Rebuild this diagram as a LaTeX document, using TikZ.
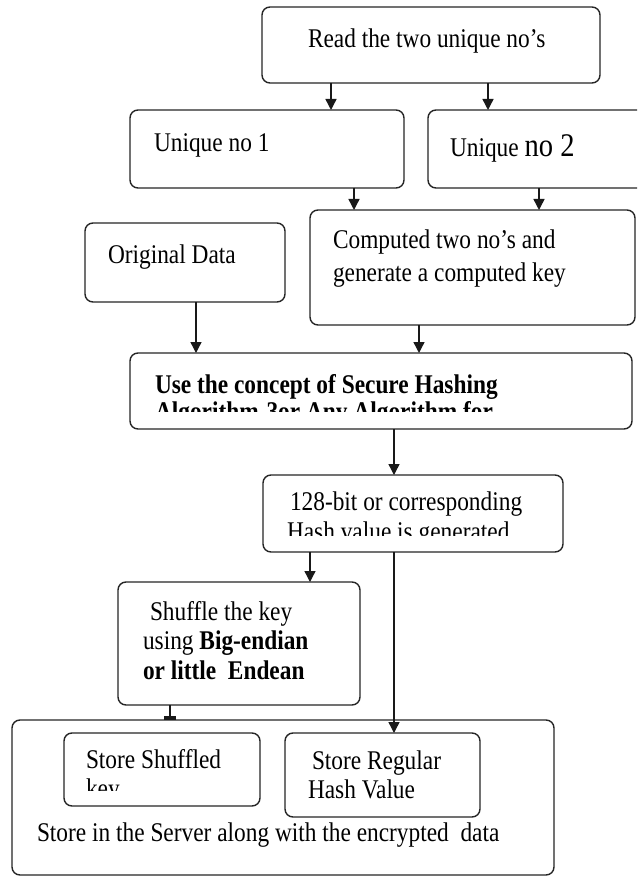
\documentclass[tikz,border=0pt]{standalone}
\usepackage{fontspec}
\setmainfont{Liberation Serif}[FakeStretch=0.865]
\usetikzlibrary{arrows.meta}
\begin{document}
\begin{tikzpicture}[x=1pt,y=-1pt,
  box/.style={draw=black!85, line width=1.4pt, rounded corners=8pt, inner sep=0pt, outer sep=0pt, anchor=north west},
  txt/.style={inner sep=0pt, outer sep=0pt, anchor=base west, font=\fontsize{27}{31}\selectfont},
  btxt/.style={txt, font=\fontsize{27}{31}\selectfont\bfseries},
  arr/.style={draw=black!90, line width=1.4pt, -{Triangle[width=11pt,length=11pt]}},
  ln/.style={draw=black!90, line width=1.4pt}]
\clip (0,0) rectangle (637,877);
\fill[white] (0,0) rectangle (637,877);
% boxes
\node[box, minimum width=338pt, minimum height=76pt] (top) at (262,7) {};
\node[box, minimum width=274pt, minimum height=78pt] (u1) at (130,110) {};
\node[box, minimum width=230pt, minimum height=78pt] (u2) at (428,110) {};
\node[box, minimum width=325pt, minimum height=115pt] (comp) at (310,210) {};
\node[box, minimum width=200pt, minimum height=79pt] (od) at (85,223) {};
\node[box, minimum width=502pt, minimum height=76pt] (use) at (130,353) {};
\node[box, minimum width=300pt, minimum height=77pt] (hash) at (263,475) {};
\node[box, minimum width=242pt, minimum height=123pt] (shuf) at (118,582) {};
\node[box, minimum width=542pt, minimum height=155pt] (outer) at (12,720) {};
\node[box, minimum width=196pt, minimum height=73pt] (ss) at (64,733) {};
\node[box, minimum width=195pt, minimum height=84pt] (sr) at (285,733) {};
% x positions of connectors
\coordinate (c331) at (331,0);
\coordinate (c488) at (488,0);
\coordinate (c354) at (354,0);
\coordinate (c539) at (539,0);
\coordinate (c196) at (196,0);
\coordinate (c419) at (419,0);
\coordinate (c394) at (394,0);
\coordinate (c310) at (310,0);
\coordinate (c170) at (170,0);
% connectors
\draw[arr] (top.south -| c331) -- (u1.north -| c331);
\draw[arr] (top.south -| c488) -- (u2.north -| c488);
\draw[arr] (u1.south -| c354) -- (comp.north -| c354);
\draw[arr] (u2.south -| c539) -- (comp.north -| c539);
\draw[arr] (od.south -| c196) -- (use.north -| c196);
\draw[arr] (comp.south -| c419) -- (use.north -| c419);
\draw[arr] (use.south -| c394) -- (hash.north -| c394);
\draw[arr] (hash.south -| c310) -- (shuf.north -| c310);
\draw[arr] (hash.south -| c394) -- (sr.north -| c394);
\draw[ln, -{Rectangle[width=12pt,length=4pt]}] (shuf.south -| c170) -- (outer.north -| c170);
% texts
\node[txt] (ttop) at (308,48) {Read the two unique no's};
\node[txt] (tu1) at (154,152) {Unique no 1};
\node[txt] (tu2) at (450,157) {Unique {\fontsize{33}{33}\selectfont no 2}};
\node[txt] (tcompa) at (333,248) {Computed two no's and};
\node[txt] (tcompb) at (333,281) {generate a computed key};
\node[txt] (tod) at (108,263) {Original Data};
\node[btxt] (tusea) at (155,393) {Use the concept of Secure Hashing};
\begin{scope}
  \clip (130,353) rectangle (632,411);
  \node[btxt] (tuseb) at (155,420) {Algorithm-3or Any Algorithm for};
\end{scope}
\node[txt] (thasha) at (290,510) {128-bit or corresponding};
\begin{scope}
  \clip (263,475) rectangle (563,535);
  \node[txt] (thashb) at (287,540) {Hash value is generated};
\end{scope}
\node[txt] (tshufa) at (150,620) {Shuffle the key};
\node[txt] (tshufb) at (143,649) {using \textbf{Big-endian}};
\node[btxt] (tshufc) at (143,679) {or little\ \ Endean};
\node[txt] (tssa) at (86,768) {Store Shuffled};
\begin{scope}
  \clip (64,733) rectangle (260,790);
  \node[txt] (tssb) at (86,797) {key};
\end{scope}
\node[txt] (tsra) at (312,769) {Store Regular};
\node[txt] (tsrb) at (308,798) {Hash Value};
\node[txt] (tbot) at (37,841) {Store in\ the Server along with the encrypted\ \ data};
\end{tikzpicture}
\end{document}
